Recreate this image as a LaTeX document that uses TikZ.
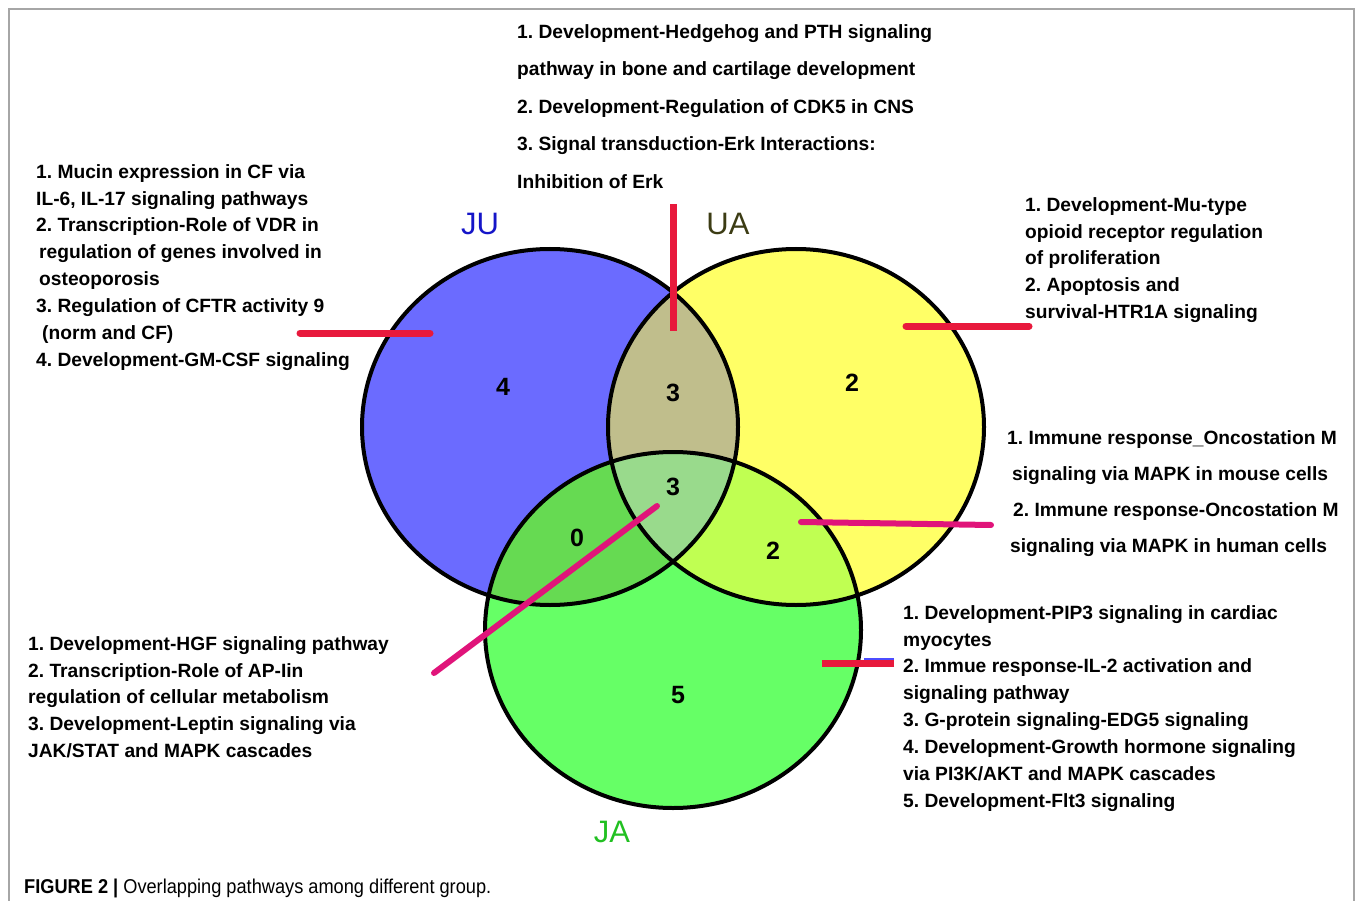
\documentclass[tikz,border=0pt]{standalone}
\usepackage{fontspec}
\newfontfamily\arialfont{Liberation Sans}
\usepackage{tikz}
\frenchspacing

\definecolor{jublue}{HTML}{6B6BFF}
\definecolor{uayellow}{HTML}{FFFF66}
\definecolor{jagreen}{HTML}{66FF66}
\definecolor{juua}{HTML}{C0BE8C}
\definecolor{juja}{HTML}{66DA52}
\definecolor{uaja}{HTML}{C0FF52}
\definecolor{allthree}{HTML}{99DA8C}
\definecolor{leadred}{HTML}{E8193C}
\definecolor{leadpink}{HTML}{E0147A}
\definecolor{jutext}{HTML}{1515C8}
\definecolor{uatext}{HTML}{3C3C14}
\definecolor{jatext}{HTML}{22C022}

\newcommand{\vennrx}{188pt}
\newcommand{\vennry}{178pt}

\begin{document}
\begin{tikzpicture}
	% Styles
	[
	x=1pt, y=-1pt,
	pathways/.style={anchor=north west, align=left, inner sep=0pt, font=\arialfont\bfseries\fontsize{19.2}{26.9}\selectfont},
	regioncount/.style={inner sep=0pt, font=\arialfont\bfseries\fontsize{25}{25}\selectfont},
	setname/.style={inner sep=0pt, font=\arialfont\fontsize{31}{31}\selectfont},
	setline/.style={draw=black, line width=4pt},
	leader/.style={draw=leadred, line width=7pt, line cap=round},
	]
	\useasboundingbox (0,0) rectangle (1357,901);
	\draw[gray!70, line width=1.2pt] (9,901) -- (9,9) -- (1354,9) -- (1354,901);

	% Sets
	\coordinate (ju) at (550,427);
	\coordinate (ua) at (796,427);
	\coordinate (ja) at (673,630);

	\fill[jublue] (ju) ellipse [x radius=\vennrx, y radius=\vennry];
	\fill[uayellow] (ua) ellipse [x radius=\vennrx, y radius=\vennry];
	\fill[jagreen] (ja) ellipse [x radius=\vennrx, y radius=\vennry];
	\begin{scope}
		\clip (ua) ellipse [x radius=\vennrx, y radius=\vennry];
		\fill[uaja] (ja) ellipse [x radius=\vennrx, y radius=\vennry];
	\end{scope}
	\begin{scope}
		\clip (ju) ellipse [x radius=\vennrx, y radius=\vennry];
		\fill[juua] (ua) ellipse [x radius=\vennrx, y radius=\vennry];
		\fill[juja] (ja) ellipse [x radius=\vennrx, y radius=\vennry];
		\clip (ua) ellipse [x radius=\vennrx, y radius=\vennry];
		\fill[allthree] (ja) ellipse [x radius=\vennrx, y radius=\vennry];
	\end{scope}
	\draw[setline] (ju) ellipse [x radius=\vennrx, y radius=\vennry];
	\draw[setline] (ua) ellipse [x radius=\vennrx, y radius=\vennry];
	\draw[setline] (ja) ellipse [x radius=\vennrx, y radius=\vennry];

	% Nodes
	\node at (480,224)	(juName)	[setname, text=jutext] {JU};
	\node at (728,224)	(uaName)	[setname, text=uatext] {UA};
	\node at (612,832)	(jaName)	[setname, text=jatext] {JA};

	\node at (503,387)	(nJu)	[regioncount] {4};
	\node at (673,393)	(nJuUa)	[regioncount] {3};
	\node at (852,383)	(nUa)	[regioncount] {2};
	\node at (673,487)	(nAll)	[regioncount] {3};
	\node at (577,538)	(nJuJa)	[regioncount] {0};
	\node at (773,551)	(nUaJa)	[regioncount] {2};
	\node at (678,695)	(nJa)	[regioncount] {5};

	\node at (36,164)	(juPaths)	[pathways] {1. Mucin expression in CF via\\
		IL-6, IL-17 signaling pathways\\
		2. Transcription-Role of VDR in\\
		\hspace*{3pt}regulation of genes involved in\\
		\hspace*{3pt}osteoporosis\\
		3. Regulation of CFTR activity 9\\
		\hspace*{6pt}(norm and CF)\\
		4. Development-GM-CSF signaling};
	\node at (517,24)	(juuaPaths)	[pathways, font=\arialfont\bfseries\fontsize{19.2}{37.5}\selectfont] {1. Development-Hedgehog and PTH signaling\\
		pathway in bone and cartilage development\\
		2. Development-Regulation of CDK5 in CNS\\
		3. Signal transduction-Erk Interactions:\\
		Inhibition of Erk};
	\node at (1025,197)	(uaPaths)	[pathways] {1. Development-Mu-type\\
		opioid receptor regulation\\
		of proliferation\\
		2. Apoptosis and\\
		survival-HTR1A signaling};
	\node at (1007,430)	(uajaPaths)	[pathways, font=\arialfont\bfseries\fontsize{19.2}{36}\selectfont] {1. Immune response\_Oncostation M\\
		\hspace*{5pt}signaling via MAPK in mouse cells\\
		\hspace*{6pt}2. Immune response-Oncostation M\\
		\hspace*{3pt}signaling via MAPK in human cells};
	\node at (28,636)	(allPaths)	[pathways] {1. Development-HGF signaling pathway\\
		2. Transcription-Role of AP-Iin\\
		regulation of cellular metabolism\\
		3. Development-Leptin signaling via\\
		JAK/STAT and MAPK cascades};
	\node at (903,605)	(jaPaths)	[pathways] {1. Development-PIP3 signaling in cardiac\\
		myocytes\\
		2. Immue response-IL-2 activation and\\
		signaling pathway\\
		3. G-protein signaling-EDG5 signaling\\
		4. Development-Growth hormone signaling\\
		via PI3K/AKT and MAPK cascades\\
		5. Development-Flt3 signaling};

	\node at (24,893)	(caption)	[anchor=base west, inner sep=0pt, font=\arialfont\fontsize{20}{20}\selectfont] {\scalebox{0.91}[1]{\textbf{FIGURE 2 |} Overlapping pathways among different group.}};

	% Connections
	\coordinate (juFrom) at (300,333);	\coordinate (juTo) at (430,333);
	\coordinate (juuaFrom) at (673,204);	\coordinate (juuaTo) at (673,331);
	\coordinate (uaFrom) at (1029,326);	\coordinate (uaTo) at (906,326);
	\coordinate (allFrom) at (434,673);	\coordinate (allTo) at (657,506);
	\coordinate (uajaFrom) at (991,525);	\coordinate (uajaTo) at (801,522);
	\coordinate (jaFrom) at (894,663);	\coordinate (jaTo) at (822,663);
	\coordinate (jaTick) at (864,659);

	\draw[leader] (juFrom) -- (juTo);
	\draw[leader, line cap=butt] (juuaFrom) -- (juuaTo);
	\draw[leader] (uaFrom) -- (uaTo);
	\draw[leader, draw=leadpink, line width=6pt] (allFrom) -- (allTo);
	\draw[leader, draw=leadpink, line width=6pt] (uajaFrom) -- (uajaTo);
	\draw[leader, line cap=butt] (jaFrom) -- (jaTo);
	\draw[draw=blue!70, line width=2pt] (jaFrom |- jaTick) -- (jaTick);

\end{tikzpicture}
\end{document}
